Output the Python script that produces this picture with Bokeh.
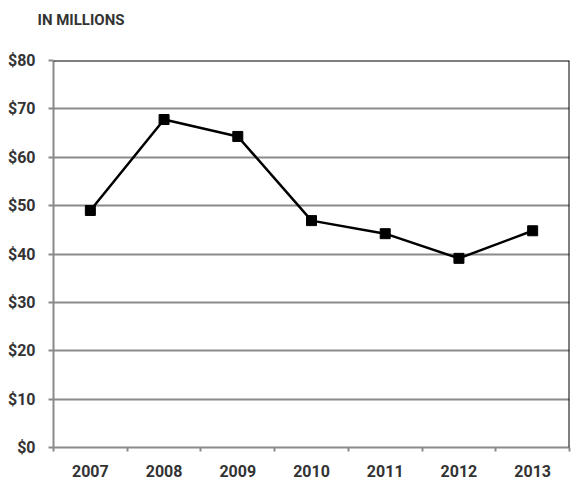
from bokeh.plotting import figure
from bokeh.models import FixedTicker, Span, Range1d, ColumnDataSource, Title
from bokeh.embed import file_html
from bokeh.resources import INLINE

years = ["2007", "2008", "2009", "2010", "2011", "2012", "2013"]
values = [49.0, 67.8, 64.3, 46.9, 44.2, 39.1, 44.8]
y_ticks = [0, 10, 20, 30, 40, 50, 60, 70, 80]
y_labels = {t: "$%d" % t for t in y_ticks}
unit_note = "IN MILLIONS"

FONT = "Roboto"
TXT = "#333333"
GRAY = "#8a8a8a"

xs = [i + 0.5 for i in range(len(years))]
src = ColumnDataSource(dict(x=xs, y=values, year=years))

p = figure(width=572, height=480, output_backend="svg", toolbar_location=None,
           x_range=Range1d(0, len(years)), y_range=Range1d(0, 80),
           min_border_left=53, min_border_right=3, min_border_top=60, min_border_bottom=33)
p.outline_line_color = None
p.background_fill_color = "white"
p.border_fill_color = "white"

# spacer panel next to the frame, then the unit note above it
p.add_layout(Title(text=" ", text_font_size="2px", standoff=16), "above")
p.add_layout(Title(text=unit_note, align="left", vertical_align="top", offset=-16, standoff=20,
                   text_font=FONT, text_font_style="bold", text_font_size="15px",
                   text_color=TXT), "above")

# x axis: labels at centres, ticks at category boundaries
p.xaxis.ticker = FixedTicker(ticks=xs, minor_ticks=list(range(len(years) + 1)))
p.xaxis.major_label_overrides = {x: y for x, y in zip(xs, years)}
p.xaxis.major_tick_line_color = None
p.xaxis.minor_tick_line_color = GRAY
p.xaxis.minor_tick_line_width = 2
p.xaxis.minor_tick_out = 4
p.xaxis.minor_tick_in = 0
p.xaxis.major_label_standoff = 11

p.yaxis.ticker = FixedTicker(ticks=y_ticks, minor_ticks=[])
p.yaxis.major_label_overrides = y_labels
p.yaxis.major_tick_line_color = GRAY
p.yaxis.major_tick_line_width = 2
p.yaxis.major_tick_out = 5
p.yaxis.major_tick_in = 0
p.yaxis.minor_tick_line_color = None
p.yaxis.major_label_standoff = 13

for ax in (p.xaxis, p.yaxis):
    ax.axis_line_color = GRAY
    ax.axis_line_width = 2
    ax.major_label_text_font = FONT
    ax.major_label_text_font_style = "bold"
    ax.major_label_text_font_size = "16px"
    ax.major_label_text_color = TXT

p.xgrid.grid_line_color = None
p.ygrid.ticker = FixedTicker(ticks=y_ticks[1:])
p.ygrid.grid_line_color = GRAY
p.ygrid.grid_line_width = 2
p.ygrid.grid_line_alpha = 1

p.add_layout(Span(location=80, dimension="width", line_color="black", line_width=2))
p.add_layout(Span(location=len(years), dimension="height", line_color="black", line_width=2))

p.line("x", "y", source=src, line_color="black", line_width=2.5)
p.scatter("x", "y", source=src, marker="square", size=10, fill_color="black", line_color="black")

open("out.html", "w").write(file_html(p, INLINE))
